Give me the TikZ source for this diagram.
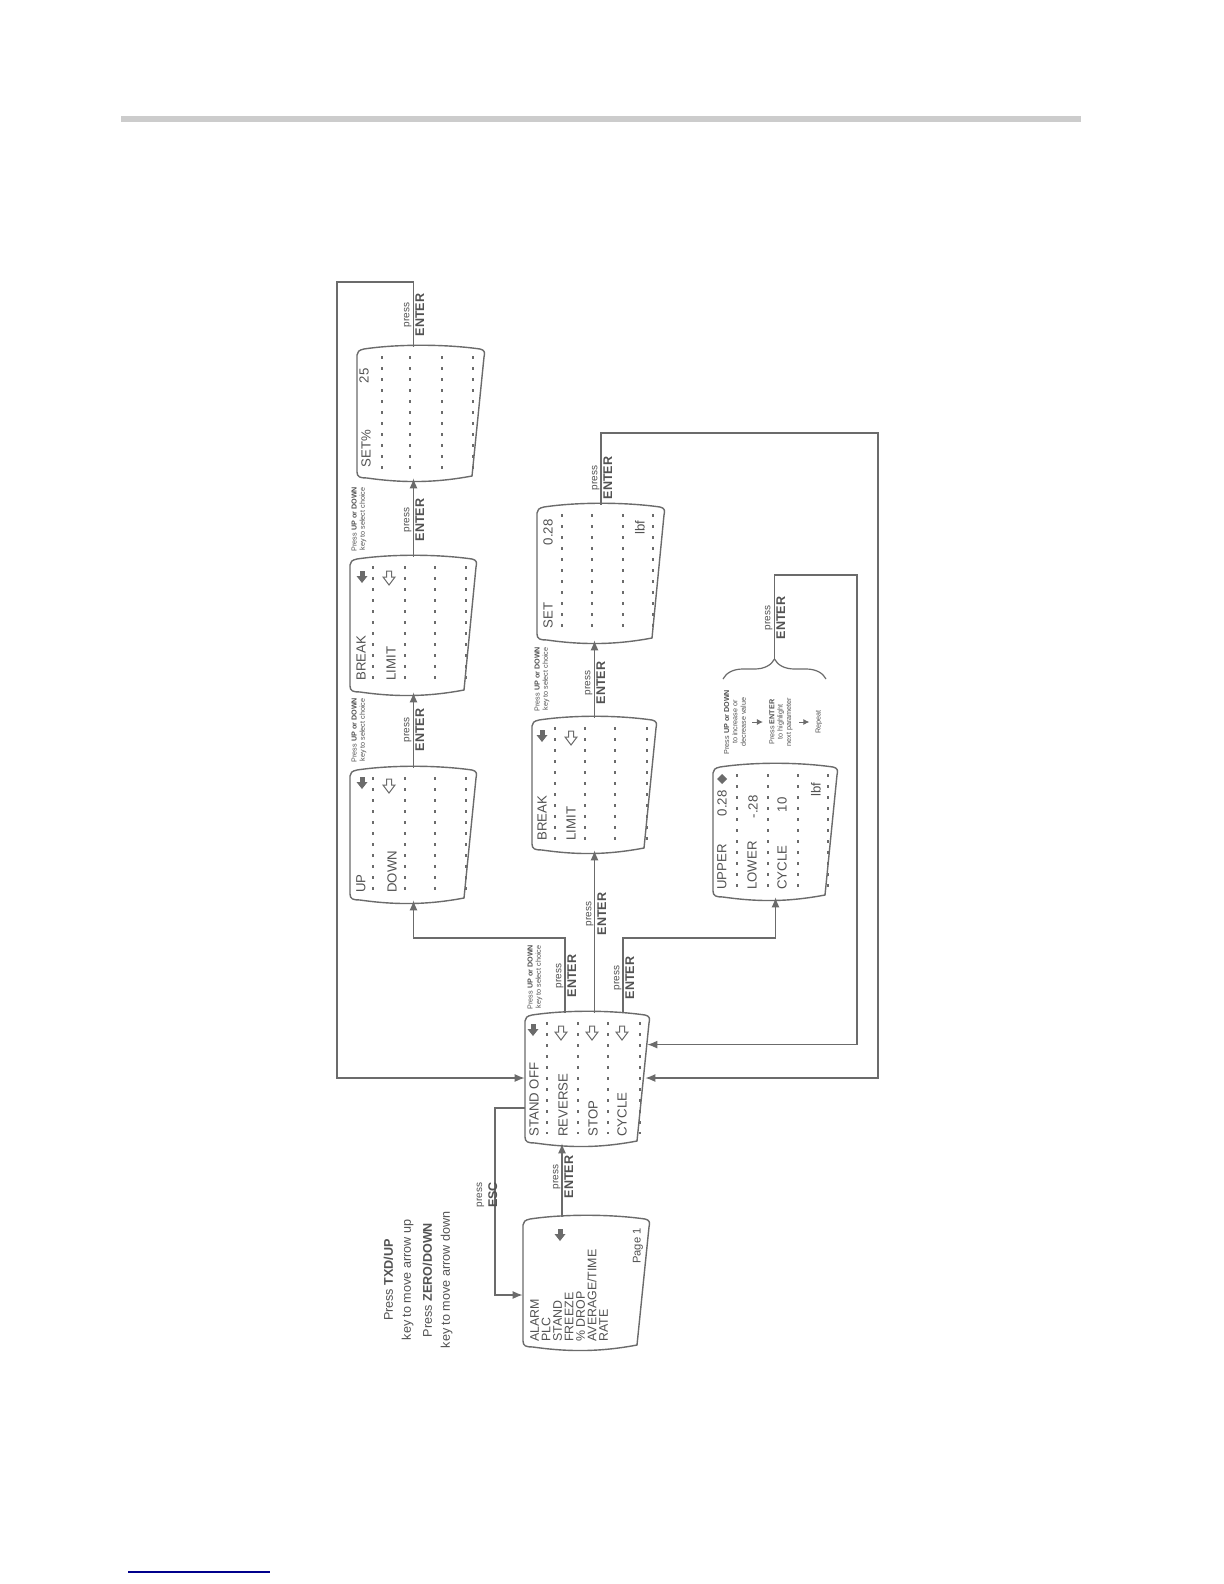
\documentclass[tikz,border=0pt]{standalone}
\usepackage{fontspec}
\setmainfont{Liberation Sans}
\usetikzlibrary{arrows.meta,decorations.pathreplacing,fit,calc}
\definecolor{lcol}{gray}{0.42}
\definecolor{tcol}{gray}{0.32}
\tikzset{
 scr/.style={draw=lcol, line width=0.7pt, fill=white},
 dl/.style={draw=lcol, line width=0.55pt, dash pattern=on 1.5pt off 4pt},
 conn/.style={draw=lcol, line width=0.6pt, -{Latex[length=5pt,width=4pt]}},
 st/.style={rotate=90, inner sep=0pt, text=tcol, font=\fontsize{6.6}{7}\selectfont},
 pe/.style={rotate=90, inner sep=0pt, text=tcol, align=center, font=\fontsize{6.3}{6.8}\selectfont},
 tinytxt/.style={rotate=90, inner sep=0pt, text=tcol, align=center, font=\fontsize{3.6}{4.2}\selectfont},
 smallarr/.style={draw=lcol, line width=0.5pt, -{Latex[length=3pt,width=3pt]}, shorten <=3pt, shorten >=3pt},
}
\newcommand{\lcd}[5]{%
 \draw[scr] (#2,#3+8) -- (#2,#5-6)
   .. controls (#2,#5-1) and (#2+3,#5) .. (#2+10,#5)
   .. controls (#2+45,#5+5) and (#4-50,#5+5) .. (#4-13,#5-2)
   -- (#4-1,#3+10)
   .. controls (#4,#3+6) and (#4,#3+3) .. (#4-5,#3+2)
   .. controls (#4-40,#3-3) and (#2+40,#3-3) .. (#2+7,#3+2)
   .. controls (#2+2,#3+3) and (#2,#3+5) .. cycle;
 \coordinate (#1-nw) at (#2,#3); \coordinate (#1-se) at (#4,#5);
 \node[fit=(#1-nw)(#1-se), inner sep=0pt] (#1) {};
}
\newcommand{\dls}[3]{\foreach \xx in {#3} {\draw[dl] (\xx,#1) -- (\xx,#2);}}
\newcommand{\lcdfarrow}[2]{%
 \fill[lcol] (#1-2.5,#2-6) rectangle (#1+2.5,#2);
 \fill[lcol] (#1-5.5,#2-1) -- (#1+5.5,#2-1) -- (#1,#2+6) -- cycle;}
\newcommand{\lcdoarrow}[2]{%
 \draw[lcol, line width=0.5pt] (#1-2.5,#2-7) -- (#1+2.5,#2-7) -- (#1+2.5,#2-1) -- (#1+6,#2-1) -- (#1,#2+7) -- (#1-6,#2-1) -- (#1-2.5,#2-1) -- cycle;}
\newcommand{\pressenter}{{\fontsize{5}{5}\selectfont press}\\[0.6pt]\textbf{ENTER}}
\newcommand{\selcap}{Press \textbf{UP or DOWN}\\key to select choice}
\begin{document}
\begin{tikzpicture}[x=0.5pt,y=-0.5pt]
\useasboundingbox (0,0) rectangle (1224,1584);
\fill[white] (0,0) rectangle (1224,1584);
% page rules
\draw[gray!40, line width=3pt] (121,119) -- (1081,119);
\draw[blue!55!black, line width=0.6pt] (128,1572) -- (270,1572);

% screens
\lcd{A}{357}{347}{485}{478}
\lcd{B}{350}{557}{477}{692}
\lcd{C}{350}{768}{477}{900}
\lcd{D}{537}{505}{665}{640}
\lcd{E}{532}{718}{657}{850}
\lcd{F}{713}{765}{838}{897}
\lcd{G}{525}{1013}{650}{1143}
\lcd{H}{523}{1217}{650}{1347}

% dashed rows
\dls{356}{469}{382,410,442,473}
\dls{566}{683}{373,405,435,466}
\dls{777}{891}{373,405,435,466}
\dls{514}{631}{562,592,623,653}
\dls{727}{841}{555,585,615,647}
\dls{774}{888}{737,768,798,828}
\dls{1022}{1134}{547,578,608,640}

% screen A
\node[st,anchor=west] (a1) at (366,468) {SET\%};
\node[st,anchor=east] (a2) at (364,368) {25};
% screen B
\node[st,anchor=west] (b1) at (361,681) {BREAK};
\node[st,anchor=west] (b2) at (391,681) {LIMIT};
\lcdfarrow{362}{577}
\lcdoarrow{389}{578}
% screen C
\node[st,anchor=west] (c1) at (361,893) {UP};
\node[st,anchor=west] (c2) at (392,893) {DOWN};
\lcdfarrow{362}{783}
\lcdoarrow{389}{786}
% screen D
\node[st,anchor=west] (d1) at (548,629) {SET};
\node[st,anchor=east] (d2) at (548,519) {0.28};
\node[st,anchor=east] (d3) at (640,520) {lbf};
% screen E
\node[st,anchor=west] (e1) at (542,841) {BREAK};
\node[st,anchor=west] (e2) at (571,841) {LIMIT};
\lcdfarrow{542}{736}
\lcdoarrow{571}{738}
% screen F
\node[st,anchor=west] (f1) at (722,890) {UPPER};
\node[st,anchor=east] (f2) at (722,790) {0.28};
\fill[lcol] (722,774) -- (727,779) -- (722,784) -- (717,779) -- cycle;
\node[st,anchor=west] (f3) at (752,890) {LOWER};
\node[st,anchor=east] (f4) at (753,795) {-.28};
\node[st,anchor=west] (f5) at (782,890) {CYCLE};
\node[st,anchor=east] (f6) at (782,797) {10};
\node[st,anchor=east] (f7) at (816,782) {lbf};
% screen G
\node[st,anchor=west] (g1) at (534,1137) {STAND OFF};
\node[st,anchor=west] (g2) at (563,1137) {REVERSE};
\node[st,anchor=west] (g3) at (593,1137) {STOP};
\node[st,anchor=west] (g4) at (622,1137) {CYCLE};
\lcdfarrow{533}{1030}
\lcdoarrow{561}{1033}
\lcdoarrow{592}{1033}
\lcdoarrow{622}{1033}
% screen H
\node[rotate=90, inner sep=0pt, text=tcol, align=left, anchor=north west,
      font=\fontsize{6.2}{5.75}\selectfont] (h1) at (530,1342)
  {ALARM\\PLC\\STAND\\FREEZE\\\% DROP\\AVERAGE/TIME\\RATE};
\node[st,anchor=east,font=\fontsize{5.6}{6}\selectfont] (h2) at (638,1228) {Page 1};
\lcdfarrow{560}{1235}

% helper coordinates
\coordinate (xa) at (565,0);
\coordinate (xb) at (623,0);
\coordinate (xh) at (562,0);
\coordinate (xesc) at (495,0);
\coordinate (ya) at (0,938);
\coordinate (yesc) at (0,1108);
\coordinate (yesc2) at (0,1295);
\coordinate (outer) at (878,433);
\coordinate (inner) at (857,575);
\coordinate (lefttop) at (337,282);
\coordinate (gin1) at ($(G.north east)+(-3,32)$);
\coordinate (gin2) at ($(G.east)+(-5,0)$);

% connectors
\draw[conn] (A.north -| B.north) |- (lefttop) |- (G.west);
\draw[conn] (B.north) -- (B.north |- A.south);
\draw[conn] (C.north) -- (C.north |- B.south);
\draw[conn] (G.north -| xa) |- (C.south |- ya) -- (C.south);
\draw[conn] (G.north -| E.south) -- (E.south);
\draw[conn] (G.north -| xb) |- (F.south |- ya) -- (F.south);
\draw[conn] (E.north) -- (E.north |- D.south);
\draw[conn] (D.north) |- (outer) |- (gin2);
\draw[decorate, decoration={brace, amplitude=10pt}, draw=lcol, line width=0.6pt] (723,679) -- (826,679);
\coordinate (bt) at (774.5,659);
\draw[conn] (bt) |- (inner) |- (gin1);
\draw[conn] (H.north -| xh) -- (G.south -| xh);
\draw[conn] (G.west |- yesc) -| (xesc |- yesc2) -- (H.west |- yesc2);

% connector labels
\node[pe] (lA) at (414,315) {\pressenter};
\node[pe] (lBA) at (414,520) {\pressenter};
\node[pe] (lCB) at (414,730) {\pressenter};
\node[pe] (lGC) at (566,976) {\pressenter};
\node[pe] (lGE) at (596,914) {\pressenter};
\node[pe] (lGF) at (624,978) {\pressenter};
\node[pe] (lED) at (595,683) {\pressenter};
\node[pe] (lD) at (602,478) {\pressenter};
\node[pe] (lF) at (775,618) {\pressenter};
\node[pe] (lHG) at (563,1177) {\pressenter};
\node[pe] (lesc) at (487,1195) {{\fontsize{5}{5}\selectfont press}\\[0.6pt]\textbf{ESC}};

% small captions
\node[tinytxt] (sBA) at (359,519) {\selcap};
\node[tinytxt] (sCB) at (359,730) {\selcap};
\node[tinytxt] (sED) at (542,679) {\selcap};
\node[tinytxt] (sGC) at (535,977) {\selcap};

% instructions under brace
\node[tinytxt] (i1) at (735,722) {Press \textbf{UP or DOWN}\\to increase or\\decrease value};
\node[tinytxt] (i2) at (781,722) {Press \textbf{ENTER}\\to highlight\\next parameter};
\node[tinytxt] (i3) at (819,722) {Repeat};
\draw[smallarr] (i1) -- (i2);
\draw[smallarr] (i2) -- (i3);

% legend
\node[rotate=90, inner sep=0pt, align=center, text=tcol, font=\fontsize{6.3}{9}\selectfont] (legend) at (418,1280)
  {Press \textbf{TXD/UP}\\key to move arrow up\\[1.5pt]Press \textbf{ZERO/DOWN}\\key to move arrow down};
\end{tikzpicture}
\end{document}
